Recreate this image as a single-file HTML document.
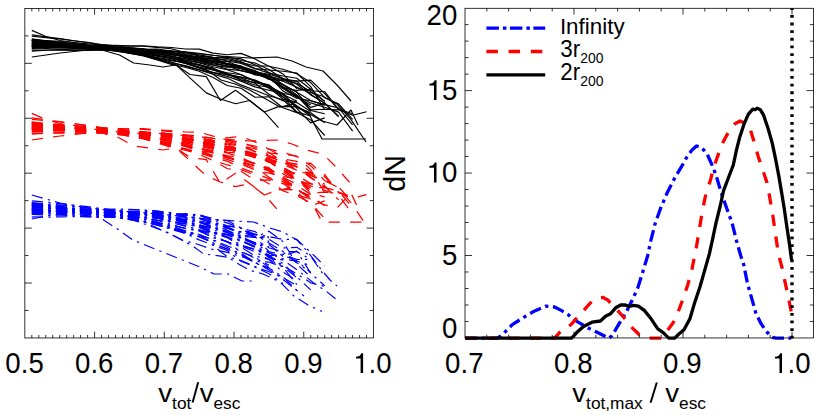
<!DOCTYPE html>
<html>
<head>
<meta charset="utf-8">
<title>Escape velocity plots</title>
<style>
html, body { margin: 0; padding: 0; background: #fff; }
body { width: 830px; height: 415px; overflow: hidden; font-family: "Liberation Sans", sans-serif; }
svg { display: block; }
</style>
</head>
<body>
<svg width="830" height="415" viewBox="0 0 830 415" font-family='"Liberation Sans", sans-serif' fill="#000">
<rect width="830" height="415" fill="#fff"/>
<g fill="none" stroke-linejoin="round" stroke-linecap="butt">
<g stroke="#000" stroke-width="1.15">
<path d="M31.8 43.7 L45.8 44.1 L59.7 44.6 L73.7 46.1 L87.6 47.1 L101.6 48.1 L115.5 50.0 L129.4 52.5 L143.4 55.4 L157.3 58.5 L171.3 62.0 L185.2 66.4 L199.2 69.9 L213.1 74.3 L227.1 78.1 L241.0 84.9 L255.0 90.3 L268.9 95.7 L282.9 99.7 L296.8 112.3"/>
<path d="M31.8 45.2 L45.8 44.5 L59.7 44.7 L73.7 44.9 L87.6 45.0 L101.6 45.6 L115.5 45.4 L129.4 46.1 L143.4 46.3 L157.3 47.4 L171.3 48.7 L185.2 52.5 L199.2 56.2 L213.1 57.6 L227.1 61.0 L241.0 63.4 L255.0 68.6 L268.9 70.0 L282.9 71.3 L296.8 73.0 L310.7 86.6 L324.7 109.8"/>
<path d="M31.8 45.2 L45.8 45.4 L59.7 45.9 L73.7 46.9 L87.6 47.4 L101.6 48.6 L115.5 49.9 L129.4 52.5 L143.4 55.4 L157.3 59.6 L171.3 62.7 L185.2 65.6 L199.2 69.7 L213.1 72.9 L227.1 76.4 L241.0 81.1 L255.0 86.9 L268.9 90.2 L282.9 93.2 L296.8 108.4 L310.7 122.9 L324.7 117.9"/>
<path d="M31.8 51.1 L45.8 50.3 L59.7 50.1 L73.7 50.4 L87.6 50.4 L101.6 50.2 L115.5 50.3 L129.4 50.7 L143.4 51.9 L157.3 53.9 L171.3 56.4 L185.2 58.7 L199.2 60.9 L213.1 63.9 L227.1 65.8 L241.0 68.8 L255.0 71.4 L268.9 76.1 L282.9 90.9 L296.8 98.3 L310.7 100.7 L324.7 104.6 L338.6 108.0 L352.6 124.8"/>
<path d="M31.8 40.6 L45.8 41.9 L59.7 43.0 L73.7 44.7 L87.6 46.4 L101.6 48.2 L115.5 49.8 L129.4 52.2 L143.4 55.0 L157.3 57.6 L171.3 59.8 L185.2 63.4 L199.2 68.1 L213.1 72.4 L227.1 74.7 L241.0 78.1 L255.0 83.3 L268.9 94.3 L282.9 100.8 L296.8 102.6 L310.7 111.4"/>
<path d="M31.8 46.3 L45.8 46.5 L59.7 46.6 L73.7 47.3 L87.6 47.8 L101.6 48.1 L115.5 48.7 L129.4 49.3 L143.4 51.0 L157.3 51.9 L171.3 52.9 L185.2 56.0 L199.2 57.5 L213.1 58.8 L227.1 63.5 L241.0 66.5 L255.0 72.9 L268.9 76.0 L282.9 79.7 L296.8 83.3 L310.7 91.6 L324.7 101.2"/>
<path d="M31.8 40.3 L45.8 41.3 L59.7 42.6 L73.7 43.7 L87.6 45.6 L101.6 47.1 L115.5 48.2 L129.4 48.2 L143.4 49.2 L157.3 49.0 L171.3 51.0 L185.2 53.7 L199.2 54.9 L213.1 57.4 L227.1 58.4 L241.0 61.7 L255.0 68.5 L268.9 73.1 L282.9 76.0 L296.8 78.3 L310.7 89.3"/>
<path d="M31.8 40.4 L45.8 41.9 L59.7 43.6 L73.7 45.6 L87.6 47.2 L101.6 49.4 L115.5 51.1 L129.4 53.1 L143.4 55.4 L157.3 58.3 L171.3 60.8 L185.2 62.3 L199.2 64.6 L213.1 69.9 L227.1 73.3 L241.0 80.0 L255.0 85.0 L268.9 87.3 L282.9 99.0 L296.8 101.9"/>
<path d="M31.8 47.6 L45.8 47.5 L59.7 47.4 L73.7 47.9 L87.6 48.6 L101.6 48.9 L115.5 49.5 L129.4 49.5 L143.4 51.2 L157.3 52.6 L171.3 53.7 L185.2 56.4 L199.2 58.0 L213.1 58.9 L227.1 63.7 L241.0 66.7 L255.0 71.7 L268.9 74.2 L282.9 78.3 L296.8 84.3 L310.7 94.9 L324.7 103.1 L338.6 116.2"/>
<path d="M31.8 44.0 L45.8 44.4 L59.7 45.0 L73.7 45.9 L87.6 47.1 L101.6 48.4 L115.5 49.4 L129.4 51.2 L143.4 53.8 L157.3 55.9 L171.3 58.2 L185.2 62.2 L199.2 65.1 L213.1 69.1 L227.1 74.1 L241.0 79.7 L255.0 82.6 L268.9 85.7 L282.9 94.4 L296.8 101.1"/>
<path d="M31.8 38.9 L45.8 40.8 L59.7 42.2 L73.7 44.4 L87.6 46.3 L101.6 48.4 L115.5 50.6 L129.4 51.9 L143.4 53.7 L157.3 55.9 L171.3 57.8 L185.2 61.4 L199.2 64.8 L213.1 67.9 L227.1 74.4 L241.0 77.0 L255.0 80.1 L268.9 86.0 L282.9 93.5 L296.8 95.5 L310.7 110.5 L324.7 113.8"/>
<path d="M31.8 48.4 L45.8 47.8 L59.7 47.5 L73.7 47.5 L87.6 47.9 L101.6 47.9 L115.5 47.7 L129.4 48.3 L143.4 49.7 L157.3 50.2 L171.3 51.5 L185.2 52.0 L199.2 55.7 L213.1 57.6 L227.1 57.3 L241.0 58.9 L255.0 64.7 L268.9 72.5 L282.9 78.9 L296.8 87.6"/>
<path d="M31.8 36.3 L45.8 37.6 L59.7 38.9 L73.7 40.7 L87.6 42.3 L101.6 44.5 L115.5 45.7 L129.4 47.6 L143.4 48.9 L157.3 51.3 L171.3 53.6 L185.2 57.0 L199.2 59.2 L213.1 60.6 L227.1 61.5 L241.0 66.8 L255.0 73.2 L268.9 78.6 L282.9 84.9 L296.8 95.0 L310.7 107.4 L324.7 103.2 L338.6 116.9"/>
<path d="M31.8 39.6 L45.8 41.0 L59.7 42.2 L73.7 43.9 L87.6 46.0 L101.6 47.9 L115.5 49.1 L129.4 50.8 L143.4 52.7 L157.3 54.1 L171.3 56.0 L185.2 58.8 L199.2 60.8 L213.1 62.4 L227.1 66.7 L241.0 68.2 L255.0 74.9 L268.9 75.9 L282.9 84.4 L296.8 92.1 L310.7 109.9 L324.7 109.2 L338.6 109.9"/>
<path d="M31.8 40.8 L45.8 42.1 L59.7 42.9 L73.7 44.7 L87.6 45.4 L101.6 47.0 L115.5 48.6 L129.4 50.4 L143.4 52.9 L157.3 55.4 L171.3 57.9 L185.2 60.2 L199.2 62.9 L213.1 66.7 L227.1 69.8 L241.0 74.5 L255.0 81.7 L268.9 84.7 L282.9 96.6 L296.8 107.3 L310.7 112.8 L324.7 122.7"/>
<path d="M31.8 42.7 L45.8 43.4 L59.7 43.6 L73.7 44.7 L87.6 46.1 L101.6 47.0 L115.5 47.7 L129.4 48.8 L143.4 51.6 L157.3 53.6 L171.3 56.4 L185.2 59.9 L199.2 62.4 L213.1 65.3 L227.1 67.3 L241.0 66.4 L255.0 70.5 L268.9 78.1 L282.9 86.7 L296.8 97.0 L310.7 104.9"/>
<path d="M31.8 46.0 L45.8 46.1 L59.7 45.9 L73.7 46.9 L87.6 47.5 L101.6 48.0 L115.5 48.5 L129.4 50.1 L143.4 50.6 L157.3 51.6 L171.3 53.1 L185.2 54.6 L199.2 57.8 L213.1 60.9 L227.1 63.5 L241.0 65.9 L255.0 73.3 L268.9 78.6 L282.9 87.3 L296.8 95.9 L310.7 102.9 L324.7 107.3 L338.6 112.1 L352.6 131.2"/>
<path d="M31.8 42.0 L45.8 42.1 L59.7 42.8 L73.7 43.8 L87.6 45.2 L101.6 46.3 L115.5 47.1 L129.4 48.0 L143.4 49.0 L157.3 50.7 L171.3 52.5 L185.2 54.9 L199.2 57.0 L213.1 61.3 L227.1 63.9 L241.0 68.4 L255.0 73.6 L268.9 75.1 L282.9 84.4 L296.8 92.3 L310.7 100.6 L324.7 105.3"/>
<path d="M31.8 39.7 L45.8 40.5 L59.7 41.3 L73.7 42.5 L87.6 43.9 L101.6 44.8 L115.5 45.7 L129.4 45.8 L143.4 45.7 L157.3 46.9 L171.3 47.5 L185.2 49.0 L199.2 49.1 L213.1 53.1 L227.1 54.8 L241.0 53.4 L255.0 58.9 L268.9 66.2 L282.9 69.2 L296.8 73.7 L310.7 82.6 L324.7 97.7 L338.6 103.9 L352.6 119.4"/>
<path d="M31.8 50.3 L45.8 50.0 L59.7 49.6 L73.7 49.2 L87.6 49.3 L101.6 49.0 L115.5 49.3 L129.4 49.2 L143.4 49.4 L157.3 50.3 L171.3 50.8 L185.2 51.9 L199.2 53.2 L213.1 55.3 L227.1 57.0 L241.0 60.5 L255.0 63.0 L268.9 69.5 L282.9 78.7 L296.8 81.1 L310.7 80.1 L324.7 93.7 L338.6 109.6 L352.6 115.3 L366.5 111.7"/>
<path d="M31.8 43.1 L45.8 43.7 L59.7 44.1 L73.7 45.1 L87.6 45.8 L101.6 46.5 L115.5 47.4 L129.4 47.9 L143.4 49.4 L157.3 50.1 L171.3 52.4 L185.2 55.1 L199.2 57.2 L213.1 59.2 L227.1 59.8 L241.0 62.4 L255.0 66.0 L268.9 66.0 L282.9 73.9 L296.8 88.6 L310.7 90.8 L324.7 91.7 L338.6 109.4 L352.6 113.7"/>
<path d="M31.8 42.2 L45.8 43.3 L59.7 44.0 L73.7 45.5 L87.6 46.9 L101.6 48.5 L115.5 49.8 L129.4 50.1 L143.4 50.9 L157.3 52.6 L171.3 53.9 L185.2 57.7 L199.2 59.9 L213.1 61.3 L227.1 64.0 L241.0 67.1 L255.0 71.9 L268.9 79.4 L282.9 80.6 L296.8 81.1 L310.7 94.3 L324.7 103.2"/>
<path d="M31.8 45.4 L45.8 45.7 L59.7 45.9 L73.7 46.5 L87.6 47.9 L101.6 49.0 L115.5 49.5 L129.4 49.7 L143.4 50.8 L157.3 52.5 L171.3 55.2 L185.2 54.9 L199.2 59.5 L213.1 62.8 L227.1 66.0 L241.0 70.6 L255.0 74.3 L268.9 78.2 L282.9 87.6 L296.8 90.5 L310.7 89.2 L324.7 101.4"/>
<path d="M31.8 46.6 L45.8 46.7 L59.7 46.7 L73.7 47.7 L87.6 48.4 L101.6 49.1 L115.5 49.9 L129.4 51.5 L143.4 54.4 L157.3 57.5 L171.3 60.2 L185.2 63.1 L199.2 67.1 L213.1 69.9 L227.1 74.6 L241.0 77.3 L255.0 80.5 L268.9 88.2 L282.9 96.9 L296.8 111.9 L310.7 116.0"/>
<path d="M31.8 34.9 L45.8 36.9 L59.7 38.5 L73.7 40.8 L87.6 42.8 L101.6 45.0 L115.5 46.9 L129.4 49.5 L143.4 52.1 L157.3 55.6 L171.3 57.9 L185.2 61.2 L199.2 65.4 L213.1 69.4 L227.1 72.7 L241.0 74.8 L255.0 80.9 L268.9 87.0 L282.9 94.7 L296.8 106.4 L310.7 116.2"/>
<path d="M31.8 44.6 L45.8 44.4 L59.7 44.9 L73.7 45.5 L87.6 46.1 L101.6 47.0 L115.5 47.6 L129.4 49.2 L143.4 50.5 L157.3 52.3 L171.3 53.9 L185.2 57.1 L199.2 61.3 L213.1 64.7 L227.1 69.1 L241.0 70.6 L255.0 73.8 L268.9 78.3 L282.9 88.6 L296.8 97.2"/>
<path d="M31.8 43.8 L45.8 44.1 L59.7 44.5 L73.7 45.8 L87.6 46.7 L101.6 47.6 L115.5 49.2 L129.4 53.2 L143.4 55.9 L157.3 60.0 L171.3 64.4 L185.2 67.2 L199.2 71.3 L213.1 77.6 L227.1 85.5 L241.0 88.3 L255.0 97.3 L268.9 96.8 L282.9 107.8 L296.8 112.6 L310.7 119.9 L324.7 135.5"/>
<path d="M31.8 30.4 L46.0 36.5 L60.0 40.5 L74.0 42.5 L88.0 45.0 L102.0 47.5 L130.0 50.0 L160.0 50.5 L190.0 53.0 L220.0 56.0 L250.0 58.0 L277.0 57.0 L292.0 61.0 L306.0 67.0 L323.0 71.0 L337.0 85.0 L351.0 101.0"/>
<path d="M31.8 57.0 L46.0 55.0 L60.0 53.0 L74.0 51.5 L88.0 50.0 L102.0 49.5 L130.0 51.0 L160.0 53.0 L190.0 57.0 L220.0 63.0 L250.0 70.0 L280.0 80.0 L308.0 92.0 L322.0 96.0 L337.0 104.0 L351.0 119.6 L366.0 142.0"/>
<path d="M31.8 49.0 L60.0 48.0 L88.0 49.0 L102.0 50.0 L119.5 55.0 L133.6 63.0 L149.9 65.0 L162.9 67.0 L175.9 65.0 L190.0 74.5 L206.3 76.6 L220.4 100.5 L235.5 90.3 L249.0 100.0 L264.4 112.0 L278.5 106.6 L294.8 106.6 L308.0 112.0 L322.0 139.0 L337.0 139.0 L351.0 139.0 L366.0 139.0"/>
<path d="M31.8 46.0 L60.0 46.5 L88.0 48.0 L116.0 51.0 L147.0 56.0 L175.9 64.7 L191.0 78.8 L206.3 92.9 L220.4 99.0 L235.5 103.7 L249.6 100.5 L264.8 112.4 L278.5 127.7"/>
<path d="M31.8 41.0 L60.0 44.0 L88.0 47.0 L116.0 50.5 L147.0 54.0 L178.0 60.0 L207.0 70.0 L221.0 80.0 L235.0 84.0 L249.6 90.0 L264.0 98.0 L280.0 107.0 L294.0 104.0 L308.0 113.0 L322.0 121.0 L337.0 125.0 L351.0 110.0 L358.0 125.0"/>
</g>
<g stroke="#f00" stroke-width="1.25" stroke-dasharray="11.2 10.4">
<path d="M31.8 126.7 L45.8 127.1 L59.7 127.6 L73.7 129.1 L87.6 130.1 L101.6 131.1 L115.5 133.0 L129.4 135.5 L143.4 138.4 L157.3 141.5 L171.3 145.0 L185.2 149.4 L199.2 152.9 L213.1 157.3 L227.1 161.1 L241.0 167.9 L255.0 173.3 L268.9 178.7 L282.9 182.7 L296.8 195.3"/>
<path d="M31.8 128.2 L45.8 127.5 L59.7 127.7 L73.7 127.9 L87.6 128.0 L101.6 128.6 L115.5 128.4 L129.4 129.1 L143.4 129.3 L157.3 130.4 L171.3 131.7 L185.2 135.5 L199.2 139.2 L213.1 140.6 L227.1 144.0 L241.0 146.4 L255.0 151.6 L268.9 153.0 L282.9 154.3 L296.8 156.0 L310.7 169.6 L324.7 192.8"/>
<path d="M31.8 128.2 L45.8 128.4 L59.7 128.9 L73.7 129.9 L87.6 130.4 L101.6 131.6 L115.5 132.9 L129.4 135.5 L143.4 138.4 L157.3 142.6 L171.3 145.7 L185.2 148.6 L199.2 152.7 L213.1 155.9 L227.1 159.4 L241.0 164.1 L255.0 169.9 L268.9 173.2 L282.9 176.2 L296.8 191.4 L310.7 205.9 L324.7 200.9"/>
<path d="M31.8 134.1 L45.8 133.3 L59.7 133.1 L73.7 133.4 L87.6 133.4 L101.6 133.2 L115.5 133.3 L129.4 133.7 L143.4 134.9 L157.3 136.9 L171.3 139.4 L185.2 141.7 L199.2 143.9 L213.1 146.9 L227.1 148.8 L241.0 151.8 L255.0 154.4 L268.9 159.1 L282.9 173.9 L296.8 181.3 L310.7 183.7 L324.7 187.6 L338.6 191.0 L352.6 207.8"/>
<path d="M31.8 123.6 L45.8 124.9 L59.7 126.0 L73.7 127.7 L87.6 129.4 L101.6 131.2 L115.5 132.8 L129.4 135.2 L143.4 138.0 L157.3 140.6 L171.3 142.8 L185.2 146.4 L199.2 151.1 L213.1 155.4 L227.1 157.7 L241.0 161.1 L255.0 166.3 L268.9 177.3 L282.9 183.8 L296.8 185.6 L310.7 194.4"/>
<path d="M31.8 129.3 L45.8 129.5 L59.7 129.6 L73.7 130.3 L87.6 130.8 L101.6 131.1 L115.5 131.7 L129.4 132.3 L143.4 134.0 L157.3 134.9 L171.3 135.9 L185.2 139.0 L199.2 140.5 L213.1 141.8 L227.1 146.5 L241.0 149.5 L255.0 155.9 L268.9 159.0 L282.9 162.7 L296.8 166.3 L310.7 174.6 L324.7 184.2"/>
<path d="M31.8 123.3 L45.8 124.3 L59.7 125.6 L73.7 126.7 L87.6 128.6 L101.6 130.1 L115.5 131.2 L129.4 131.2 L143.4 132.2 L157.3 132.0 L171.3 134.0 L185.2 136.7 L199.2 137.9 L213.1 140.4 L227.1 141.4 L241.0 144.7 L255.0 151.5 L268.9 156.1 L282.9 159.0 L296.8 161.3 L310.7 172.3"/>
<path d="M31.8 123.4 L45.8 124.9 L59.7 126.6 L73.7 128.6 L87.6 130.2 L101.6 132.4 L115.5 134.1 L129.4 136.1 L143.4 138.4 L157.3 141.3 L171.3 143.8 L185.2 145.3 L199.2 147.6 L213.1 152.9 L227.1 156.3 L241.0 163.0 L255.0 168.0 L268.9 170.3 L282.9 182.0 L296.8 184.9"/>
<path d="M31.8 130.6 L45.8 130.5 L59.7 130.4 L73.7 130.9 L87.6 131.6 L101.6 131.9 L115.5 132.5 L129.4 132.5 L143.4 134.2 L157.3 135.6 L171.3 136.7 L185.2 139.4 L199.2 141.0 L213.1 141.9 L227.1 146.7 L241.0 149.7 L255.0 154.7 L268.9 157.2 L282.9 161.3 L296.8 167.3 L310.7 177.9 L324.7 186.1 L338.6 199.2"/>
<path d="M31.8 127.0 L45.8 127.4 L59.7 128.0 L73.7 128.9 L87.6 130.1 L101.6 131.4 L115.5 132.4 L129.4 134.2 L143.4 136.8 L157.3 138.9 L171.3 141.2 L185.2 145.2 L199.2 148.1 L213.1 152.1 L227.1 157.1 L241.0 162.7 L255.0 165.6 L268.9 168.7 L282.9 177.4 L296.8 184.1"/>
<path d="M31.8 121.9 L45.8 123.8 L59.7 125.2 L73.7 127.4 L87.6 129.3 L101.6 131.4 L115.5 133.6 L129.4 134.9 L143.4 136.7 L157.3 138.9 L171.3 140.8 L185.2 144.4 L199.2 147.8 L213.1 150.9 L227.1 157.4 L241.0 160.0 L255.0 163.1 L268.9 169.0 L282.9 176.5 L296.8 178.5 L310.7 193.5 L324.7 196.8"/>
<path d="M31.8 131.4 L45.8 130.8 L59.7 130.5 L73.7 130.5 L87.6 130.9 L101.6 130.9 L115.5 130.7 L129.4 131.3 L143.4 132.7 L157.3 133.2 L171.3 134.5 L185.2 135.0 L199.2 138.7 L213.1 140.6 L227.1 140.3 L241.0 141.9 L255.0 147.7 L268.9 155.5 L282.9 161.9 L296.8 170.6"/>
<path d="M31.8 119.3 L45.8 120.6 L59.7 121.9 L73.7 123.7 L87.6 125.3 L101.6 127.5 L115.5 128.7 L129.4 130.6 L143.4 131.9 L157.3 134.3 L171.3 136.6 L185.2 140.0 L199.2 142.2 L213.1 143.6 L227.1 144.5 L241.0 149.8 L255.0 156.2 L268.9 161.6 L282.9 167.9 L296.8 178.0 L310.7 190.4 L324.7 186.2 L338.6 199.9"/>
<path d="M31.8 122.6 L45.8 124.0 L59.7 125.2 L73.7 126.9 L87.6 129.0 L101.6 130.9 L115.5 132.1 L129.4 133.8 L143.4 135.7 L157.3 137.1 L171.3 139.0 L185.2 141.8 L199.2 143.8 L213.1 145.4 L227.1 149.7 L241.0 151.2 L255.0 157.9 L268.9 158.9 L282.9 167.4 L296.8 175.1 L310.7 192.9 L324.7 192.2 L338.6 192.9"/>
<path d="M31.8 123.8 L45.8 125.1 L59.7 125.9 L73.7 127.7 L87.6 128.4 L101.6 130.0 L115.5 131.6 L129.4 133.4 L143.4 135.9 L157.3 138.4 L171.3 140.9 L185.2 143.2 L199.2 145.9 L213.1 149.7 L227.1 152.8 L241.0 157.5 L255.0 164.7 L268.9 167.7 L282.9 179.6 L296.8 190.3 L310.7 195.8 L324.7 205.7"/>
<path d="M31.8 125.7 L45.8 126.4 L59.7 126.6 L73.7 127.7 L87.6 129.1 L101.6 130.0 L115.5 130.7 L129.4 131.8 L143.4 134.6 L157.3 136.6 L171.3 139.4 L185.2 142.9 L199.2 145.4 L213.1 148.3 L227.1 150.3 L241.0 149.4 L255.0 153.5 L268.9 161.1 L282.9 169.7 L296.8 180.0 L310.7 187.9"/>
<path d="M31.8 129.0 L45.8 129.1 L59.7 128.9 L73.7 129.9 L87.6 130.5 L101.6 131.0 L115.5 131.5 L129.4 133.1 L143.4 133.6 L157.3 134.6 L171.3 136.1 L185.2 137.6 L199.2 140.8 L213.1 143.9 L227.1 146.5 L241.0 148.9 L255.0 156.3 L268.9 161.6 L282.9 170.3 L296.8 178.9 L310.7 185.9 L324.7 190.3 L338.6 195.1 L352.6 214.2"/>
<path d="M31.8 125.0 L45.8 125.1 L59.7 125.8 L73.7 126.8 L87.6 128.2 L101.6 129.3 L115.5 130.1 L129.4 131.0 L143.4 132.0 L157.3 133.7 L171.3 135.5 L185.2 137.9 L199.2 140.0 L213.1 144.3 L227.1 146.9 L241.0 151.4 L255.0 156.6 L268.9 158.1 L282.9 167.4 L296.8 175.3 L310.7 183.6 L324.7 188.3"/>
<path d="M31.8 122.7 L45.8 123.5 L59.7 124.3 L73.7 125.5 L87.6 126.9 L101.6 127.8 L115.5 128.7 L129.4 128.8 L143.4 128.7 L157.3 129.9 L171.3 130.5 L185.2 132.0 L199.2 132.1 L213.1 136.1 L227.1 137.8 L241.0 136.4 L255.0 141.9 L268.9 149.2 L282.9 152.2 L296.8 156.7 L310.7 165.6 L324.7 180.7 L338.6 186.9 L352.6 202.4"/>
<path d="M31.8 133.3 L45.8 133.0 L59.7 132.6 L73.7 132.2 L87.6 132.3 L101.6 132.0 L115.5 132.3 L129.4 132.2 L143.4 132.4 L157.3 133.3 L171.3 133.8 L185.2 134.9 L199.2 136.2 L213.1 138.3 L227.1 140.0 L241.0 143.5 L255.0 146.0 L268.9 152.5 L282.9 161.7 L296.8 164.1 L310.7 163.1 L324.7 176.7 L338.6 192.6 L352.6 198.3 L366.5 194.7"/>
<path d="M31.8 126.1 L45.8 126.7 L59.7 127.1 L73.7 128.1 L87.6 128.8 L101.6 129.5 L115.5 130.4 L129.4 130.9 L143.4 132.4 L157.3 133.1 L171.3 135.4 L185.2 138.1 L199.2 140.2 L213.1 142.2 L227.1 142.8 L241.0 145.4 L255.0 149.0 L268.9 149.0 L282.9 156.9 L296.8 171.6 L310.7 173.8 L324.7 174.7 L338.6 192.4 L352.6 196.7"/>
<path d="M31.8 125.2 L45.8 126.3 L59.7 127.0 L73.7 128.5 L87.6 129.9 L101.6 131.5 L115.5 132.8 L129.4 133.1 L143.4 133.9 L157.3 135.6 L171.3 136.9 L185.2 140.7 L199.2 142.9 L213.1 144.3 L227.1 147.0 L241.0 150.1 L255.0 154.9 L268.9 162.4 L282.9 163.6 L296.8 164.1 L310.7 177.3 L324.7 186.2"/>
<path d="M31.8 128.4 L45.8 128.7 L59.7 128.9 L73.7 129.5 L87.6 130.9 L101.6 132.0 L115.5 132.5 L129.4 132.7 L143.4 133.8 L157.3 135.5 L171.3 138.2 L185.2 137.9 L199.2 142.5 L213.1 145.8 L227.1 149.0 L241.0 153.6 L255.0 157.3 L268.9 161.2 L282.9 170.6 L296.8 173.5 L310.7 172.2 L324.7 184.4"/>
<path d="M31.8 129.6 L45.8 129.7 L59.7 129.7 L73.7 130.7 L87.6 131.4 L101.6 132.1 L115.5 132.9 L129.4 134.5 L143.4 137.4 L157.3 140.5 L171.3 143.2 L185.2 146.1 L199.2 150.1 L213.1 152.9 L227.1 157.6 L241.0 160.3 L255.0 163.5 L268.9 171.2 L282.9 179.9 L296.8 194.9 L310.7 199.0"/>
<path d="M31.8 117.9 L45.8 119.9 L59.7 121.5 L73.7 123.8 L87.6 125.8 L101.6 128.0 L115.5 129.9 L129.4 132.5 L143.4 135.1 L157.3 138.6 L171.3 140.9 L185.2 144.2 L199.2 148.4 L213.1 152.4 L227.1 155.7 L241.0 157.8 L255.0 163.9 L268.9 170.0 L282.9 177.7 L296.8 189.4 L310.7 199.2"/>
<path d="M31.8 127.6 L45.8 127.4 L59.7 127.9 L73.7 128.5 L87.6 129.1 L101.6 130.0 L115.5 130.6 L129.4 132.2 L143.4 133.5 L157.3 135.3 L171.3 136.9 L185.2 140.1 L199.2 144.3 L213.1 147.7 L227.1 152.1 L241.0 153.6 L255.0 156.8 L268.9 161.3 L282.9 171.6 L296.8 180.2"/>
<path d="M31.8 126.8 L45.8 127.1 L59.7 127.5 L73.7 128.8 L87.6 129.7 L101.6 130.6 L115.5 132.2 L129.4 136.2 L143.4 138.9 L157.3 143.0 L171.3 147.4 L185.2 150.2 L199.2 154.3 L213.1 160.6 L227.1 168.5 L241.0 171.3 L255.0 180.3 L268.9 179.8 L282.9 190.8 L296.8 195.6 L310.7 202.9 L324.7 218.5"/>
<path d="M31.8 113.4 L46.0 119.5 L60.0 123.5 L74.0 125.5 L88.0 128.0 L102.0 130.5 L130.0 133.0 L160.0 133.5 L190.0 136.0 L220.0 139.0 L250.0 141.0 L277.0 140.0 L292.0 144.0 L306.0 150.0 L323.0 154.0 L337.0 168.0 L351.0 184.0"/>
<path d="M31.8 140.0 L46.0 138.0 L60.0 136.0 L74.0 134.5 L88.0 133.0 L102.0 132.5 L130.0 134.0 L160.0 136.0 L190.0 140.0 L220.0 146.0 L250.0 153.0 L280.0 163.0 L308.0 175.0 L322.0 179.0 L337.0 187.0 L351.0 202.6 L366.0 225.0"/>
<path d="M31.8 132.0 L60.0 131.0 L88.0 132.0 L102.0 133.0 L119.5 138.0 L133.6 146.0 L149.9 148.0 L162.9 150.0 L175.9 148.0 L190.0 157.5 L206.3 159.6 L220.4 183.5 L235.5 173.3 L249.0 183.0 L264.4 195.0 L278.5 189.6 L294.8 189.6 L308.0 195.0 L322.0 222.0 L337.0 222.0 L351.0 222.0 L366.0 222.0"/>
<path d="M31.8 129.0 L60.0 129.5 L88.0 131.0 L116.0 134.0 L147.0 139.0 L175.9 147.7 L191.0 161.8 L206.3 175.9 L220.4 182.0 L235.5 186.7 L249.6 183.5 L264.8 195.4 L278.5 210.7"/>
<path d="M31.8 124.0 L60.0 127.0 L88.0 130.0 L116.0 133.5 L147.0 137.0 L178.0 143.0 L207.0 153.0 L221.0 163.0 L235.0 167.0 L249.6 173.0 L264.0 181.0 L280.0 190.0 L294.0 187.0 L308.0 196.0 L322.0 204.0 L337.0 208.0 L351.0 193.0 L358.0 208.0"/>
</g>
<g stroke="#00f" stroke-width="1.2" stroke-dasharray="11.3 5.3 2.25 5.3">
<path d="M31.8 206.0 L45.8 206.8 L59.7 207.8 L73.7 209.1 L87.6 210.2 L101.6 211.5 L115.5 212.5 L129.4 213.0 L143.4 213.8 L157.3 215.3 L171.3 218.0 L185.2 220.3 L199.2 222.2 L213.1 227.8 L227.1 231.2 L241.0 235.5 L255.0 244.6 L268.9 246.7"/>
<path d="M31.8 209.1 L45.8 210.2 L59.7 211.6 L73.7 212.9 L87.6 214.4 L101.6 216.1 L115.5 217.6 L129.4 219.5 L143.4 221.7 L157.3 224.1 L171.3 227.7 L185.2 230.9 L199.2 234.6 L213.1 239.8 L227.1 245.7 L241.0 251.2 L255.0 258.3 L268.9 265.1"/>
<path d="M31.8 210.9 L45.8 211.2 L59.7 210.9 L73.7 210.8 L87.6 211.1 L101.6 211.4 L115.5 211.8 L129.4 212.7 L143.4 214.0 L157.3 216.5 L171.3 218.7 L185.2 222.3 L199.2 226.3 L213.1 231.2 L227.1 237.4 L241.0 241.2 L255.0 247.1 L268.9 255.8 L282.9 254.1 L296.8 259.5 L310.7 259.4"/>
<path d="M31.8 212.5 L45.8 212.0 L59.7 211.9 L73.7 212.1 L87.6 212.2 L101.6 212.4 L115.5 212.3 L129.4 212.2 L143.4 212.1 L157.3 212.7 L171.3 213.5 L185.2 214.6 L199.2 214.5 L213.1 220.0 L227.1 220.5 L241.0 228.0 L255.0 237.9 L268.9 236.9"/>
<path d="M31.8 200.8 L45.8 202.2 L59.7 203.6 L73.7 205.2 L87.6 206.6 L101.6 208.5 L115.5 210.2 L129.4 211.5 L143.4 212.1 L157.3 214.5 L171.3 216.7 L185.2 220.0 L199.2 222.5 L213.1 224.3 L227.1 230.1 L241.0 236.4 L255.0 237.4 L268.9 231.3 L282.9 241.5 L296.8 264.1 L310.7 276.9"/>
<path d="M31.8 209.0 L45.8 210.1 L59.7 211.1 L73.7 212.1 L87.6 213.4 L101.6 214.5 L115.5 214.5 L129.4 214.0 L143.4 213.6 L157.3 215.1 L171.3 215.4 L185.2 217.1 L199.2 218.3 L213.1 221.6 L227.1 228.1 L241.0 231.9 L255.0 234.1 L268.9 239.1 L282.9 248.0 L296.8 247.3 L310.7 256.1 L324.7 276.5"/>
<path d="M31.8 206.3 L45.8 207.7 L59.7 208.6 L73.7 209.9 L87.6 211.4 L101.6 212.7 L115.5 214.1 L129.4 215.9 L143.4 217.6 L157.3 220.2 L171.3 224.4 L185.2 228.8 L199.2 230.6 L213.1 237.7 L227.1 241.6 L241.0 247.1 L255.0 256.0 L268.9 259.3 L282.9 267.1 L296.8 284.6"/>
<path d="M31.8 213.0 L45.8 213.7 L59.7 214.1 L73.7 215.0 L87.6 215.6 L101.6 216.1 L115.5 217.0 L129.4 219.7 L143.4 222.0 L157.3 225.2 L171.3 228.2 L185.2 232.5 L199.2 234.8 L213.1 243.6 L227.1 248.9 L241.0 255.4 L255.0 261.3 L268.9 262.2 L282.9 266.4 L296.8 277.7"/>
<path d="M31.8 205.3 L45.8 206.3 L59.7 207.2 L73.7 209.0 L87.6 210.5 L101.6 212.1 L115.5 213.5 L129.4 216.8 L143.4 221.5 L157.3 225.2 L171.3 229.4 L185.2 233.3 L199.2 239.9 L213.1 245.1 L227.1 250.5 L241.0 261.3 L255.0 267.1 L268.9 273.7 L282.9 283.4"/>
<path d="M31.8 209.0 L45.8 209.0 L59.7 209.1 L73.7 209.2 L87.6 209.1 L101.6 209.5 L115.5 209.0 L129.4 209.3 L143.4 210.1 L157.3 211.7 L171.3 215.1 L185.2 214.9 L199.2 218.2 L213.1 223.5 L227.1 226.9 L241.0 233.0 L255.0 234.6 L268.9 242.9 L282.9 251.4 L296.8 251.7 L310.7 259.3"/>
<path d="M31.8 211.2 L45.8 211.4 L59.7 211.9 L73.7 212.2 L87.6 213.0 L101.6 213.7 L115.5 213.3 L129.4 212.6 L143.4 211.6 L157.3 212.8 L171.3 214.5 L185.2 213.7 L199.2 215.0 L213.1 218.4 L227.1 222.9 L241.0 228.1 L255.0 231.6 L268.9 241.6"/>
<path d="M31.8 205.0 L45.8 206.2 L59.7 207.6 L73.7 208.8 L87.6 210.3 L101.6 211.8 L115.5 213.8 L129.4 217.0 L143.4 219.5 L157.3 222.6 L171.3 228.5 L185.2 233.4 L199.2 236.6 L213.1 242.9 L227.1 249.3 L241.0 253.1 L255.0 262.7 L268.9 267.9 L282.9 276.7 L296.8 290.5"/>
<path d="M31.8 214.4 L45.8 215.1 L59.7 215.2 L73.7 215.7 L87.6 216.6 L101.6 216.6 L115.5 216.5 L129.4 215.8 L143.4 215.1 L157.3 215.6 L171.3 217.7 L185.2 219.6 L199.2 218.9 L213.1 222.8 L227.1 225.8 L241.0 228.2 L255.0 234.3 L268.9 236.5 L282.9 239.4 L296.8 239.4 L310.7 252.3 L324.7 266.0"/>
<path d="M31.8 204.4 L45.8 206.0 L59.7 208.2 L73.7 210.3 L87.6 212.7 L101.6 215.0 L115.5 217.3 L129.4 219.2 L143.4 221.1 L157.3 223.3 L171.3 225.0 L185.2 228.0 L199.2 231.3 L213.1 237.0 L227.1 241.5 L241.0 252.1 L255.0 257.0 L268.9 267.4"/>
<path d="M31.8 203.0 L45.8 204.8 L59.7 206.2 L73.7 208.2 L87.6 209.9 L101.6 212.4 L115.5 214.5 L129.4 215.9 L143.4 217.3 L157.3 220.4 L171.3 221.3 L185.2 225.5 L199.2 230.4 L213.1 234.7 L227.1 242.2 L241.0 245.7 L255.0 249.4 L268.9 256.2 L282.9 263.4 L296.8 276.9 L310.7 289.9"/>
<path d="M31.8 208.1 L45.8 208.2 L59.7 208.5 L73.7 208.9 L87.6 209.4 L101.6 209.7 L115.5 210.2 L129.4 212.1 L143.4 212.6 L157.3 213.5 L171.3 217.7 L185.2 221.3 L199.2 225.2 L213.1 232.4 L227.1 235.0 L241.0 240.6 L255.0 247.5 L268.9 256.9 L282.9 266.3"/>
<path d="M31.8 202.9 L45.8 204.3 L59.7 205.5 L73.7 206.8 L87.6 207.9 L101.6 209.4 L115.5 210.9 L129.4 213.1 L143.4 213.9 L157.3 217.3 L171.3 221.2 L185.2 223.7 L199.2 227.4 L213.1 232.9 L227.1 236.7 L241.0 245.0 L255.0 249.6 L268.9 254.8 L282.9 265.7 L296.8 273.9 L310.7 282.8 L324.7 286.4"/>
<path d="M31.8 207.5 L45.8 208.3 L59.7 209.1 L73.7 210.1 L87.6 211.6 L101.6 212.6 L115.5 213.7 L129.4 214.8 L143.4 216.7 L157.3 217.5 L171.3 222.8 L185.2 226.2 L199.2 229.7 L213.1 233.2 L227.1 237.6 L241.0 246.0 L255.0 251.7 L268.9 259.6 L282.9 272.1 L296.8 280.7"/>
<path d="M31.8 202.8 L45.8 203.9 L59.7 204.9 L73.7 206.5 L87.6 208.0 L101.6 209.0 L115.5 210.0 L129.4 210.0 L143.4 210.0 L157.3 211.1 L171.3 212.7 L185.2 216.6 L199.2 221.0 L213.1 223.4 L227.1 227.5 L241.0 234.7 L255.0 236.6 L268.9 238.4"/>
<path d="M31.8 213.7 L45.8 213.8 L59.7 213.5 L73.7 213.7 L87.6 213.3 L101.6 213.7 L115.5 214.2 L129.4 214.2 L143.4 214.9 L157.3 214.9 L171.3 217.1 L185.2 218.2 L199.2 221.5 L213.1 226.7 L227.1 228.2 L241.0 231.8 L255.0 236.6 L268.9 251.5 L282.9 255.2 L296.8 260.9 L310.7 272.5"/>
<path d="M31.8 206.9 L45.8 207.8 L59.7 208.6 L73.7 210.0 L87.6 210.5 L101.6 211.6 L115.5 212.8 L129.4 216.0 L143.4 219.2 L157.3 222.4 L171.3 227.4 L185.2 231.5 L199.2 234.5 L213.1 240.3 L227.1 247.3 L241.0 254.5 L255.0 262.3 L268.9 269.6"/>
<path d="M31.8 211.4 L45.8 211.7 L59.7 211.7 L73.7 212.1 L87.6 212.5 L101.6 213.2 L115.5 213.4 L129.4 214.6 L143.4 214.6 L157.3 216.4 L171.3 220.0 L185.2 222.2 L199.2 226.1 L213.1 227.3 L227.1 232.8 L241.0 238.6 L255.0 243.9 L268.9 244.3 L282.9 256.3 L296.8 251.1 L310.7 273.2 L324.7 285.7"/>
<path d="M31.8 209.8 L45.8 210.0 L59.7 210.4 L73.7 211.0 L87.6 211.3 L101.6 212.4 L115.5 212.8 L129.4 212.1 L143.4 211.1 L157.3 211.2 L171.3 212.9 L185.2 215.4 L199.2 215.6 L213.1 220.3 L227.1 225.8 L241.0 227.6 L255.0 236.8 L268.9 237.9"/>
<path d="M31.8 216.8 L45.8 217.1 L59.7 216.9 L73.7 216.6 L87.6 216.8 L101.6 217.4 L115.5 217.0 L129.4 217.6 L143.4 217.5 L157.3 218.5 L171.3 221.5 L185.2 223.8 L199.2 226.9 L213.1 232.8 L227.1 234.2 L241.0 237.8 L255.0 244.0 L268.9 257.7 L282.9 260.1"/>
<path d="M31.8 209.5 L45.8 210.6 L59.7 211.8 L73.7 212.6 L87.6 214.0 L101.6 215.5 L115.5 216.2 L129.4 215.9 L143.4 217.0 L157.3 217.4 L171.3 219.7 L185.2 221.9 L199.2 224.7 L213.1 228.3 L227.1 232.3 L241.0 237.1 L255.0 242.7 L268.9 252.6 L282.9 258.8 L296.8 261.2 L310.7 265.5"/>
<path d="M31.8 204.7 L45.8 205.8 L59.7 207.2 L73.7 208.5 L87.6 209.6 L101.6 210.8 L115.5 211.9 L129.4 212.4 L143.4 213.4 L157.3 214.3 L171.3 217.1 L185.2 220.1 L199.2 222.3 L213.1 226.5 L227.1 232.1 L241.0 238.1 L255.0 242.5 L268.9 247.7 L282.9 252.0 L296.8 262.7 L310.7 272.4"/>
<path d="M31.8 195.0 L46.0 199.0 L60.0 203.0 L88.0 208.0 L116.0 211.0 L147.0 213.0 L178.0 216.0 L207.0 219.0 L235.0 221.0 L253.6 222.0 L270.0 228.0 L283.0 232.0 L297.0 240.0 L308.0 252.0 L320.8 269.0 L330.0 280.0 L337.0 286.0"/>
<path d="M31.8 219.0 L46.0 216.0 L60.0 214.5 L88.0 214.0 L102.0 219.0 L116.0 228.0 L133.0 240.0 L150.0 247.0 L175.0 257.0 L200.0 267.0 L214.0 274.0 L228.0 274.0 L242.0 281.0 L256.0 281.0"/>
<path d="M31.8 211.0 L60.0 211.0 L102.0 214.0 L147.0 219.0 L178.0 228.0 L207.0 240.0 L221.0 252.0 L235.0 262.0 L249.0 270.0 L263.0 274.0 L280.0 282.0 L294.0 296.0 L308.0 305.0 L322.0 311.5"/>
<path d="M31.8 204.0 L60.0 207.0 L102.0 211.0 L147.0 215.0 L190.0 222.0 L220.0 232.0 L250.0 244.0 L280.0 258.0 L300.0 272.0 L315.0 284.0 L326.0 291.0 L337.0 300.0"/>
<path d="M31.8 213.0 L60.0 212.0 L102.0 214.0 L130.0 219.0 L150.0 226.0 L166.7 232.0 L183.6 240.6 L197.0 244.0 L210.6 249.0 L227.5 252.4 L244.3 257.5 L262.0 266.0 L280.0 276.0 L294.0 284.0"/>
<path d="M31.8 209.0 L60.0 210.0 L102.0 213.0 L140.0 220.0 L170.0 234.0 L192.0 245.6 L203.8 254.0 L219.0 255.8 L237.6 259.0 L261.0 269.0 L276.0 274.0 L290.0 285.0 L304.0 296.0"/>
</g>
</g>
<rect x="24.85" y="8.4" width="348.65" height="329.55" fill="none" stroke="#000" stroke-width="0.8"/>
<line x1="31.82" y1="8.40" x2="31.82" y2="11.40" stroke="#000" stroke-width="0.8" />
<line x1="31.82" y1="337.95" x2="31.82" y2="334.95" stroke="#000" stroke-width="0.8" />
<line x1="38.80" y1="8.40" x2="38.80" y2="11.40" stroke="#000" stroke-width="0.8" />
<line x1="38.80" y1="337.95" x2="38.80" y2="334.95" stroke="#000" stroke-width="0.8" />
<line x1="45.77" y1="8.40" x2="45.77" y2="11.40" stroke="#000" stroke-width="0.8" />
<line x1="45.77" y1="337.95" x2="45.77" y2="334.95" stroke="#000" stroke-width="0.8" />
<line x1="52.74" y1="8.40" x2="52.74" y2="11.40" stroke="#000" stroke-width="0.8" />
<line x1="52.74" y1="337.95" x2="52.74" y2="334.95" stroke="#000" stroke-width="0.8" />
<line x1="59.72" y1="8.40" x2="59.72" y2="11.40" stroke="#000" stroke-width="0.8" />
<line x1="59.72" y1="337.95" x2="59.72" y2="334.95" stroke="#000" stroke-width="0.8" />
<line x1="66.69" y1="8.40" x2="66.69" y2="11.40" stroke="#000" stroke-width="0.8" />
<line x1="66.69" y1="337.95" x2="66.69" y2="334.95" stroke="#000" stroke-width="0.8" />
<line x1="73.66" y1="8.40" x2="73.66" y2="11.40" stroke="#000" stroke-width="0.8" />
<line x1="73.66" y1="337.95" x2="73.66" y2="334.95" stroke="#000" stroke-width="0.8" />
<line x1="80.63" y1="8.40" x2="80.63" y2="11.40" stroke="#000" stroke-width="0.8" />
<line x1="80.63" y1="337.95" x2="80.63" y2="334.95" stroke="#000" stroke-width="0.8" />
<line x1="87.61" y1="8.40" x2="87.61" y2="11.40" stroke="#000" stroke-width="0.8" />
<line x1="87.61" y1="337.95" x2="87.61" y2="334.95" stroke="#000" stroke-width="0.8" />
<line x1="94.58" y1="8.40" x2="94.58" y2="14.70" stroke="#000" stroke-width="0.8" />
<line x1="94.58" y1="337.95" x2="94.58" y2="331.65" stroke="#000" stroke-width="0.8" />
<line x1="101.55" y1="8.40" x2="101.55" y2="11.40" stroke="#000" stroke-width="0.8" />
<line x1="101.55" y1="337.95" x2="101.55" y2="334.95" stroke="#000" stroke-width="0.8" />
<line x1="108.53" y1="8.40" x2="108.53" y2="11.40" stroke="#000" stroke-width="0.8" />
<line x1="108.53" y1="337.95" x2="108.53" y2="334.95" stroke="#000" stroke-width="0.8" />
<line x1="115.50" y1="8.40" x2="115.50" y2="11.40" stroke="#000" stroke-width="0.8" />
<line x1="115.50" y1="337.95" x2="115.50" y2="334.95" stroke="#000" stroke-width="0.8" />
<line x1="122.47" y1="8.40" x2="122.47" y2="11.40" stroke="#000" stroke-width="0.8" />
<line x1="122.47" y1="337.95" x2="122.47" y2="334.95" stroke="#000" stroke-width="0.8" />
<line x1="129.45" y1="8.40" x2="129.45" y2="11.40" stroke="#000" stroke-width="0.8" />
<line x1="129.45" y1="337.95" x2="129.45" y2="334.95" stroke="#000" stroke-width="0.8" />
<line x1="136.42" y1="8.40" x2="136.42" y2="11.40" stroke="#000" stroke-width="0.8" />
<line x1="136.42" y1="337.95" x2="136.42" y2="334.95" stroke="#000" stroke-width="0.8" />
<line x1="143.39" y1="8.40" x2="143.39" y2="11.40" stroke="#000" stroke-width="0.8" />
<line x1="143.39" y1="337.95" x2="143.39" y2="334.95" stroke="#000" stroke-width="0.8" />
<line x1="150.36" y1="8.40" x2="150.36" y2="11.40" stroke="#000" stroke-width="0.8" />
<line x1="150.36" y1="337.95" x2="150.36" y2="334.95" stroke="#000" stroke-width="0.8" />
<line x1="157.34" y1="8.40" x2="157.34" y2="11.40" stroke="#000" stroke-width="0.8" />
<line x1="157.34" y1="337.95" x2="157.34" y2="334.95" stroke="#000" stroke-width="0.8" />
<line x1="164.31" y1="8.40" x2="164.31" y2="14.70" stroke="#000" stroke-width="0.8" />
<line x1="164.31" y1="337.95" x2="164.31" y2="331.65" stroke="#000" stroke-width="0.8" />
<line x1="171.28" y1="8.40" x2="171.28" y2="11.40" stroke="#000" stroke-width="0.8" />
<line x1="171.28" y1="337.95" x2="171.28" y2="334.95" stroke="#000" stroke-width="0.8" />
<line x1="178.26" y1="8.40" x2="178.26" y2="11.40" stroke="#000" stroke-width="0.8" />
<line x1="178.26" y1="337.95" x2="178.26" y2="334.95" stroke="#000" stroke-width="0.8" />
<line x1="185.23" y1="8.40" x2="185.23" y2="11.40" stroke="#000" stroke-width="0.8" />
<line x1="185.23" y1="337.95" x2="185.23" y2="334.95" stroke="#000" stroke-width="0.8" />
<line x1="192.20" y1="8.40" x2="192.20" y2="11.40" stroke="#000" stroke-width="0.8" />
<line x1="192.20" y1="337.95" x2="192.20" y2="334.95" stroke="#000" stroke-width="0.8" />
<line x1="199.17" y1="8.40" x2="199.17" y2="11.40" stroke="#000" stroke-width="0.8" />
<line x1="199.17" y1="337.95" x2="199.17" y2="334.95" stroke="#000" stroke-width="0.8" />
<line x1="206.15" y1="8.40" x2="206.15" y2="11.40" stroke="#000" stroke-width="0.8" />
<line x1="206.15" y1="337.95" x2="206.15" y2="334.95" stroke="#000" stroke-width="0.8" />
<line x1="213.12" y1="8.40" x2="213.12" y2="11.40" stroke="#000" stroke-width="0.8" />
<line x1="213.12" y1="337.95" x2="213.12" y2="334.95" stroke="#000" stroke-width="0.8" />
<line x1="220.09" y1="8.40" x2="220.09" y2="11.40" stroke="#000" stroke-width="0.8" />
<line x1="220.09" y1="337.95" x2="220.09" y2="334.95" stroke="#000" stroke-width="0.8" />
<line x1="227.07" y1="8.40" x2="227.07" y2="11.40" stroke="#000" stroke-width="0.8" />
<line x1="227.07" y1="337.95" x2="227.07" y2="334.95" stroke="#000" stroke-width="0.8" />
<line x1="234.04" y1="8.40" x2="234.04" y2="14.70" stroke="#000" stroke-width="0.8" />
<line x1="234.04" y1="337.95" x2="234.04" y2="331.65" stroke="#000" stroke-width="0.8" />
<line x1="241.01" y1="8.40" x2="241.01" y2="11.40" stroke="#000" stroke-width="0.8" />
<line x1="241.01" y1="337.95" x2="241.01" y2="334.95" stroke="#000" stroke-width="0.8" />
<line x1="247.99" y1="8.40" x2="247.99" y2="11.40" stroke="#000" stroke-width="0.8" />
<line x1="247.99" y1="337.95" x2="247.99" y2="334.95" stroke="#000" stroke-width="0.8" />
<line x1="254.96" y1="8.40" x2="254.96" y2="11.40" stroke="#000" stroke-width="0.8" />
<line x1="254.96" y1="337.95" x2="254.96" y2="334.95" stroke="#000" stroke-width="0.8" />
<line x1="261.93" y1="8.40" x2="261.93" y2="11.40" stroke="#000" stroke-width="0.8" />
<line x1="261.93" y1="337.95" x2="261.93" y2="334.95" stroke="#000" stroke-width="0.8" />
<line x1="268.91" y1="8.40" x2="268.91" y2="11.40" stroke="#000" stroke-width="0.8" />
<line x1="268.91" y1="337.95" x2="268.91" y2="334.95" stroke="#000" stroke-width="0.8" />
<line x1="275.88" y1="8.40" x2="275.88" y2="11.40" stroke="#000" stroke-width="0.8" />
<line x1="275.88" y1="337.95" x2="275.88" y2="334.95" stroke="#000" stroke-width="0.8" />
<line x1="282.85" y1="8.40" x2="282.85" y2="11.40" stroke="#000" stroke-width="0.8" />
<line x1="282.85" y1="337.95" x2="282.85" y2="334.95" stroke="#000" stroke-width="0.8" />
<line x1="289.82" y1="8.40" x2="289.82" y2="11.40" stroke="#000" stroke-width="0.8" />
<line x1="289.82" y1="337.95" x2="289.82" y2="334.95" stroke="#000" stroke-width="0.8" />
<line x1="296.80" y1="8.40" x2="296.80" y2="11.40" stroke="#000" stroke-width="0.8" />
<line x1="296.80" y1="337.95" x2="296.80" y2="334.95" stroke="#000" stroke-width="0.8" />
<line x1="303.77" y1="8.40" x2="303.77" y2="14.70" stroke="#000" stroke-width="0.8" />
<line x1="303.77" y1="337.95" x2="303.77" y2="331.65" stroke="#000" stroke-width="0.8" />
<line x1="310.74" y1="8.40" x2="310.74" y2="11.40" stroke="#000" stroke-width="0.8" />
<line x1="310.74" y1="337.95" x2="310.74" y2="334.95" stroke="#000" stroke-width="0.8" />
<line x1="317.72" y1="8.40" x2="317.72" y2="11.40" stroke="#000" stroke-width="0.8" />
<line x1="317.72" y1="337.95" x2="317.72" y2="334.95" stroke="#000" stroke-width="0.8" />
<line x1="324.69" y1="8.40" x2="324.69" y2="11.40" stroke="#000" stroke-width="0.8" />
<line x1="324.69" y1="337.95" x2="324.69" y2="334.95" stroke="#000" stroke-width="0.8" />
<line x1="331.66" y1="8.40" x2="331.66" y2="11.40" stroke="#000" stroke-width="0.8" />
<line x1="331.66" y1="337.95" x2="331.66" y2="334.95" stroke="#000" stroke-width="0.8" />
<line x1="338.63" y1="8.40" x2="338.63" y2="11.40" stroke="#000" stroke-width="0.8" />
<line x1="338.63" y1="337.95" x2="338.63" y2="334.95" stroke="#000" stroke-width="0.8" />
<line x1="345.61" y1="8.40" x2="345.61" y2="11.40" stroke="#000" stroke-width="0.8" />
<line x1="345.61" y1="337.95" x2="345.61" y2="334.95" stroke="#000" stroke-width="0.8" />
<line x1="352.58" y1="8.40" x2="352.58" y2="11.40" stroke="#000" stroke-width="0.8" />
<line x1="352.58" y1="337.95" x2="352.58" y2="334.95" stroke="#000" stroke-width="0.8" />
<line x1="359.55" y1="8.40" x2="359.55" y2="11.40" stroke="#000" stroke-width="0.8" />
<line x1="359.55" y1="337.95" x2="359.55" y2="334.95" stroke="#000" stroke-width="0.8" />
<line x1="366.53" y1="8.40" x2="366.53" y2="11.40" stroke="#000" stroke-width="0.8" />
<line x1="366.53" y1="337.95" x2="366.53" y2="334.95" stroke="#000" stroke-width="0.8" />
<line x1="24.85" y1="35.86" x2="28.55" y2="35.86" stroke="#000" stroke-width="0.8" />
<line x1="373.50" y1="35.86" x2="369.80" y2="35.86" stroke="#000" stroke-width="0.8" />
<line x1="24.85" y1="63.33" x2="31.85" y2="63.33" stroke="#000" stroke-width="0.8" />
<line x1="373.50" y1="63.33" x2="366.50" y2="63.33" stroke="#000" stroke-width="0.8" />
<line x1="24.85" y1="90.79" x2="28.55" y2="90.79" stroke="#000" stroke-width="0.8" />
<line x1="373.50" y1="90.79" x2="369.80" y2="90.79" stroke="#000" stroke-width="0.8" />
<line x1="24.85" y1="118.25" x2="31.85" y2="118.25" stroke="#000" stroke-width="0.8" />
<line x1="373.50" y1="118.25" x2="366.50" y2="118.25" stroke="#000" stroke-width="0.8" />
<line x1="24.85" y1="145.71" x2="28.55" y2="145.71" stroke="#000" stroke-width="0.8" />
<line x1="373.50" y1="145.71" x2="369.80" y2="145.71" stroke="#000" stroke-width="0.8" />
<line x1="24.85" y1="173.18" x2="31.85" y2="173.18" stroke="#000" stroke-width="0.8" />
<line x1="373.50" y1="173.18" x2="366.50" y2="173.18" stroke="#000" stroke-width="0.8" />
<line x1="24.85" y1="200.64" x2="28.55" y2="200.64" stroke="#000" stroke-width="0.8" />
<line x1="373.50" y1="200.64" x2="369.80" y2="200.64" stroke="#000" stroke-width="0.8" />
<line x1="24.85" y1="228.10" x2="31.85" y2="228.10" stroke="#000" stroke-width="0.8" />
<line x1="373.50" y1="228.10" x2="366.50" y2="228.10" stroke="#000" stroke-width="0.8" />
<line x1="24.85" y1="255.56" x2="28.55" y2="255.56" stroke="#000" stroke-width="0.8" />
<line x1="373.50" y1="255.56" x2="369.80" y2="255.56" stroke="#000" stroke-width="0.8" />
<line x1="24.85" y1="283.02" x2="31.85" y2="283.02" stroke="#000" stroke-width="0.8" />
<line x1="373.50" y1="283.02" x2="366.50" y2="283.02" stroke="#000" stroke-width="0.8" />
<line x1="24.85" y1="310.49" x2="28.55" y2="310.49" stroke="#000" stroke-width="0.8" />
<line x1="373.50" y1="310.49" x2="369.80" y2="310.49" stroke="#000" stroke-width="0.8" />
<text transform="translate(5.37,373.00) scale(1.0,1.09)" font-size="27.6" text-anchor="start">0.5</text>
<text transform="translate(75.10,373.00) scale(1.0,1.09)" font-size="27.6" text-anchor="start">0.6</text>
<text transform="translate(144.83,373.00) scale(1.0,1.09)" font-size="27.6" text-anchor="start">0.7</text>
<text transform="translate(214.56,373.00) scale(1.0,1.09)" font-size="27.6" text-anchor="start">0.8</text>
<text transform="translate(284.29,373.00) scale(1.0,1.09)" font-size="27.6" text-anchor="start">0.9</text>
<path d="M356.01 358.45 L356.01 356.68 C358.46 356.63 360.67 355.65 361.30 353.16 L363.13 353.16 L363.13 373.00 L360.59 373.00 L360.59 358.45 Z" fill="#000"/>
<text transform="translate(368.56,373.00) scale(1.0,1.09)" font-size="27.6" text-anchor="start">.0</text>
<text transform="translate(158.30,402.20) scale(1.0,0.96)" font-size="27.6" text-anchor="start">v<tspan font-size="17.3" dy="6.6">tot</tspan></text>
<polygon points="191.60,402.5 193.60,402.5 199.20,382.2 197.20,382.2" fill="#000"/>
<text transform="translate(199.70,402.20) scale(1.0,0.96)" font-size="27.6" text-anchor="start">v<tspan font-size="17.3" dy="6.6">esc</tspan></text>
<g fill="none" stroke-linejoin="round" stroke-linecap="butt">
<path d="M465.0 338.2 L497.0 338.2 L500.5 336.2 L504.7 332.3 L512.3 324.7 L524.1 317.1 L534.2 311.2 L546.0 306.1 L554.5 307.0 L561.2 310.4 L568.0 314.6 L578.1 322.2 L588.2 328.1 L597.1 332.3 L605.0 336.3 L608.9 338.2 L611.5 336.0 L614.0 332.3 L619.0 323.9 L625.8 312.9 L632.5 299.4 L637.6 288.4 L643.3 270.2 L647.6 255.9 L650.8 240.7 L655.2 223.4 L660.6 208.2 L667.1 193.0 L674.7 178.0 L681.2 167.2 L686.6 157.5 L692.0 149.9 L696.4 146.0 L701.8 147.7 L707.2 154.2 L711.6 164.0 L715.9 174.8 L721.3 193.0 L726.7 208.2 L732.2 223.4 L736.5 240.7 L740.8 255.9 L743.7 264.6 L747.4 283.2 L751.7 298.4 L756.0 313.6 L761.5 324.4 L766.9 332.0 L772.3 337.4 L776.0 338.2 L791.2 338.2" stroke="#00f" stroke-width="3.3" stroke-dasharray="12 4.5 3.4 4.5" stroke-dashoffset="-0.4"/>
<path d="M465.0 338.2 L553.6 338.2 L556.5 336.0 L559.5 332.6 L565.0 328.5 L571.0 324.7 L576.9 318.0 L585.3 308.7 L592.0 301.1 L599.6 297.7 L603.0 297.4 L608.1 300.2 L612.3 305.3 L619.0 312.0 L625.8 319.6 L632.5 328.1 L639.3 334.8 L645.0 337.6 L649.4 338.2 L660.4 338.2 L664.0 335.0 L667.9 329.8 L673.0 323.0 L678.1 312.0 L683.1 298.6 L688.2 283.4 L692.0 268.9 L696.4 247.2 L699.6 227.7 L702.9 208.2 L706.1 193.0 L710.5 180.0 L713.7 167.2 L719.2 152.0 L723.5 141.2 L728.9 131.4 L735.4 123.4 L740.2 121.0 L745.5 123.5 L750.6 130.4 L753.9 141.2 L758.2 156.4 L762.5 169.4 L766.9 182.4 L769.7 197.3 L772.7 214.7 L775.5 234.2 L778.4 253.7 L782.1 268.0 L785.3 283.2 L788.6 298.4 L791.4 312.5" stroke="#f00" stroke-width="3.3" stroke-dasharray="11.2 10.6" stroke-dashoffset="0.5"/>
<path d="M465.0 338.2 L571.3 338.2 L574.0 335.6 L576.9 332.3 L583.6 326.4 L592.0 322.2 L600.5 321.0 L605.5 316.3 L610.6 313.7 L615.7 307.8 L620.7 305.0 L624.9 304.8 L629.2 306.5 L633.4 305.3 L638.4 306.1 L644.3 310.4 L651.1 318.8 L657.8 328.9 L662.9 332.3 L668.8 338.2 L674.7 338.2 L678.9 334.0 L684.0 329.8 L689.9 318.8 L694.9 301.9 L700.0 286.7 L705.1 268.9 L709.4 253.7 L712.7 238.6 L715.9 223.4 L720.2 206.0 L723.5 190.8 L728.9 176.5 L733.3 165.0 L736.5 149.9 L739.8 136.9 L744.1 123.9 L748.4 114.1 L752.8 109.1 L755.0 109.8 L757.1 108.2 L760.4 109.8 L763.6 115.2 L768.0 128.2 L772.3 143.4 L775.5 158.6 L778.8 175.9 L781.0 188.9 L784.2 208.2 L787.0 227.7 L789.6 245.0 L791.6 260.4" stroke="#000" stroke-width="3.3"/>
</g>
<rect x="465.0" y="8.3" width="348.50" height="329.65" fill="none" stroke="#000" stroke-width="0.8"/>
<line x1="486.80" y1="8.30" x2="486.80" y2="11.50" stroke="#000" stroke-width="0.8" />
<line x1="486.80" y1="337.95" x2="486.80" y2="334.75" stroke="#000" stroke-width="0.8" />
<line x1="508.60" y1="8.30" x2="508.60" y2="11.50" stroke="#000" stroke-width="0.8" />
<line x1="508.60" y1="337.95" x2="508.60" y2="334.75" stroke="#000" stroke-width="0.8" />
<line x1="530.40" y1="8.30" x2="530.40" y2="11.50" stroke="#000" stroke-width="0.8" />
<line x1="530.40" y1="337.95" x2="530.40" y2="334.75" stroke="#000" stroke-width="0.8" />
<line x1="552.20" y1="8.30" x2="552.20" y2="11.50" stroke="#000" stroke-width="0.8" />
<line x1="552.20" y1="337.95" x2="552.20" y2="334.75" stroke="#000" stroke-width="0.8" />
<line x1="574.00" y1="8.30" x2="574.00" y2="14.60" stroke="#000" stroke-width="0.8" />
<line x1="574.00" y1="337.95" x2="574.00" y2="331.65" stroke="#000" stroke-width="0.8" />
<line x1="595.80" y1="8.30" x2="595.80" y2="11.50" stroke="#000" stroke-width="0.8" />
<line x1="595.80" y1="337.95" x2="595.80" y2="334.75" stroke="#000" stroke-width="0.8" />
<line x1="617.60" y1="8.30" x2="617.60" y2="11.50" stroke="#000" stroke-width="0.8" />
<line x1="617.60" y1="337.95" x2="617.60" y2="334.75" stroke="#000" stroke-width="0.8" />
<line x1="639.40" y1="8.30" x2="639.40" y2="11.50" stroke="#000" stroke-width="0.8" />
<line x1="639.40" y1="337.95" x2="639.40" y2="334.75" stroke="#000" stroke-width="0.8" />
<line x1="661.20" y1="8.30" x2="661.20" y2="11.50" stroke="#000" stroke-width="0.8" />
<line x1="661.20" y1="337.95" x2="661.20" y2="334.75" stroke="#000" stroke-width="0.8" />
<line x1="683.00" y1="8.30" x2="683.00" y2="14.60" stroke="#000" stroke-width="0.8" />
<line x1="683.00" y1="337.95" x2="683.00" y2="331.65" stroke="#000" stroke-width="0.8" />
<line x1="704.80" y1="8.30" x2="704.80" y2="11.50" stroke="#000" stroke-width="0.8" />
<line x1="704.80" y1="337.95" x2="704.80" y2="334.75" stroke="#000" stroke-width="0.8" />
<line x1="726.60" y1="8.30" x2="726.60" y2="11.50" stroke="#000" stroke-width="0.8" />
<line x1="726.60" y1="337.95" x2="726.60" y2="334.75" stroke="#000" stroke-width="0.8" />
<line x1="748.40" y1="8.30" x2="748.40" y2="11.50" stroke="#000" stroke-width="0.8" />
<line x1="748.40" y1="337.95" x2="748.40" y2="334.75" stroke="#000" stroke-width="0.8" />
<line x1="770.20" y1="8.30" x2="770.20" y2="11.50" stroke="#000" stroke-width="0.8" />
<line x1="770.20" y1="337.95" x2="770.20" y2="334.75" stroke="#000" stroke-width="0.8" />
<line x1="792.00" y1="8.30" x2="792.00" y2="14.60" stroke="#000" stroke-width="0.8" />
<line x1="792.00" y1="337.95" x2="792.00" y2="331.65" stroke="#000" stroke-width="0.8" />
<line x1="465.00" y1="321.46" x2="468.60" y2="321.46" stroke="#000" stroke-width="0.8" />
<line x1="813.50" y1="321.46" x2="809.90" y2="321.46" stroke="#000" stroke-width="0.8" />
<line x1="465.00" y1="304.97" x2="468.60" y2="304.97" stroke="#000" stroke-width="0.8" />
<line x1="813.50" y1="304.97" x2="809.90" y2="304.97" stroke="#000" stroke-width="0.8" />
<line x1="465.00" y1="288.48" x2="468.60" y2="288.48" stroke="#000" stroke-width="0.8" />
<line x1="813.50" y1="288.48" x2="809.90" y2="288.48" stroke="#000" stroke-width="0.8" />
<line x1="465.00" y1="271.99" x2="468.60" y2="271.99" stroke="#000" stroke-width="0.8" />
<line x1="813.50" y1="271.99" x2="809.90" y2="271.99" stroke="#000" stroke-width="0.8" />
<line x1="465.00" y1="255.50" x2="472.00" y2="255.50" stroke="#000" stroke-width="0.8" />
<line x1="813.50" y1="255.50" x2="806.50" y2="255.50" stroke="#000" stroke-width="0.8" />
<line x1="465.00" y1="239.01" x2="468.60" y2="239.01" stroke="#000" stroke-width="0.8" />
<line x1="813.50" y1="239.01" x2="809.90" y2="239.01" stroke="#000" stroke-width="0.8" />
<line x1="465.00" y1="222.52" x2="468.60" y2="222.52" stroke="#000" stroke-width="0.8" />
<line x1="813.50" y1="222.52" x2="809.90" y2="222.52" stroke="#000" stroke-width="0.8" />
<line x1="465.00" y1="206.03" x2="468.60" y2="206.03" stroke="#000" stroke-width="0.8" />
<line x1="813.50" y1="206.03" x2="809.90" y2="206.03" stroke="#000" stroke-width="0.8" />
<line x1="465.00" y1="189.54" x2="468.60" y2="189.54" stroke="#000" stroke-width="0.8" />
<line x1="813.50" y1="189.54" x2="809.90" y2="189.54" stroke="#000" stroke-width="0.8" />
<line x1="465.00" y1="173.05" x2="472.00" y2="173.05" stroke="#000" stroke-width="0.8" />
<line x1="813.50" y1="173.05" x2="806.50" y2="173.05" stroke="#000" stroke-width="0.8" />
<line x1="465.00" y1="156.56" x2="468.60" y2="156.56" stroke="#000" stroke-width="0.8" />
<line x1="813.50" y1="156.56" x2="809.90" y2="156.56" stroke="#000" stroke-width="0.8" />
<line x1="465.00" y1="140.07" x2="468.60" y2="140.07" stroke="#000" stroke-width="0.8" />
<line x1="813.50" y1="140.07" x2="809.90" y2="140.07" stroke="#000" stroke-width="0.8" />
<line x1="465.00" y1="123.58" x2="468.60" y2="123.58" stroke="#000" stroke-width="0.8" />
<line x1="813.50" y1="123.58" x2="809.90" y2="123.58" stroke="#000" stroke-width="0.8" />
<line x1="465.00" y1="107.09" x2="468.60" y2="107.09" stroke="#000" stroke-width="0.8" />
<line x1="813.50" y1="107.09" x2="809.90" y2="107.09" stroke="#000" stroke-width="0.8" />
<line x1="465.00" y1="90.60" x2="472.00" y2="90.60" stroke="#000" stroke-width="0.8" />
<line x1="813.50" y1="90.60" x2="806.50" y2="90.60" stroke="#000" stroke-width="0.8" />
<line x1="465.00" y1="74.11" x2="468.60" y2="74.11" stroke="#000" stroke-width="0.8" />
<line x1="813.50" y1="74.11" x2="809.90" y2="74.11" stroke="#000" stroke-width="0.8" />
<line x1="465.00" y1="57.62" x2="468.60" y2="57.62" stroke="#000" stroke-width="0.8" />
<line x1="813.50" y1="57.62" x2="809.90" y2="57.62" stroke="#000" stroke-width="0.8" />
<line x1="465.00" y1="41.13" x2="468.60" y2="41.13" stroke="#000" stroke-width="0.8" />
<line x1="813.50" y1="41.13" x2="809.90" y2="41.13" stroke="#000" stroke-width="0.8" />
<line x1="465.00" y1="24.64" x2="468.60" y2="24.64" stroke="#000" stroke-width="0.8" />
<line x1="813.50" y1="24.64" x2="809.90" y2="24.64" stroke="#000" stroke-width="0.8" />
<line x1="792.0" y1="8.3" x2="792.0" y2="338.55" stroke="#000" stroke-width="3.4" stroke-dasharray="2.8 4.84" stroke-dashoffset="1.0"/>
<text transform="translate(426.61,25.00) scale(1.0,1.09)" font-size="27.6" text-anchor="start">20</text>
<path d="M429.40 85.55 L429.40 83.78 C431.85 83.73 434.06 82.75 434.70 80.26 L436.52 80.26 L436.52 100.10 L433.98 100.10 L433.98 85.55 Z" fill="#000"/>
<text transform="translate(441.95,100.10) scale(1.0,1.09)" font-size="27.6" text-anchor="start">5</text>
<path d="M429.40 167.85 L429.40 166.08 C431.85 166.03 434.06 165.05 434.70 162.56 L436.52 162.56 L436.52 182.40 L433.98 182.40 L433.98 167.85 Z" fill="#000"/>
<text transform="translate(441.95,182.40) scale(1.0,1.09)" font-size="27.6" text-anchor="start">0</text>
<text transform="translate(441.95,265.20) scale(1.0,1.09)" font-size="27.6" text-anchor="start">5</text>
<text transform="translate(441.95,338.20) scale(1.0,1.09)" font-size="27.6" text-anchor="start">0</text>
<text transform="translate(445.12,373.00) scale(1.0,1.09)" font-size="27.6" text-anchor="start">0.7</text>
<text transform="translate(554.12,373.00) scale(1.0,1.09)" font-size="27.6" text-anchor="start">0.8</text>
<text transform="translate(663.12,373.00) scale(1.0,1.09)" font-size="27.6" text-anchor="start">0.9</text>
<path d="M774.91 358.45 L774.91 356.68 C777.36 356.63 779.57 355.65 780.20 353.16 L782.03 353.16 L782.03 373.00 L779.49 373.00 L779.49 358.45 Z" fill="#000"/>
<text transform="translate(787.46,373.00) scale(1.0,1.09)" font-size="27.6" text-anchor="start">.0</text>
<text transform="translate(572.30,402.20) scale(1.0,0.96)" font-size="27.6" text-anchor="start">v<tspan font-size="17.3" dy="6.6">tot,max</tspan></text>
<polygon points="649.60,402.8 651.60,402.8 657.80,382.5 655.80,382.5" fill="#000"/>
<text transform="translate(665.30,402.20) scale(1.0,0.96)" font-size="27.6" text-anchor="start">v<tspan font-size="17.3" dy="6.6">esc</tspan></text>
<text transform="translate(405.20,191.70) rotate(-90) scale(1.0,1.0)" font-size="28.7" text-anchor="start">dN</text>
<g fill="none" stroke-width="3.3">
<path d="M486.4 28.2 H545.2" stroke="#00f" stroke-dasharray="12.5 4 3.5 3.5"/>
<path d="M486.4 51.5 H545.2" stroke="#f00" stroke-dasharray="11.5 10.7"/>
<path d="M486.4 74.8 H545.2" stroke="#000"/>
</g>
<text transform="translate(559.90,34.30) scale(1.0,0.99)" font-size="22.4" text-anchor="start">Infinity</text>
<text transform="translate(560.30,57.30) scale(1.0,1.04)" font-size="22.4" text-anchor="start">3r<tspan font-size="13.9" dy="5.4">200</tspan></text>
<text transform="translate(560.30,80.00) scale(1.0,1.04)" font-size="22.4" text-anchor="start">2r<tspan font-size="13.9" dy="5.4">200</tspan></text>
</svg>
</body>
</html>
